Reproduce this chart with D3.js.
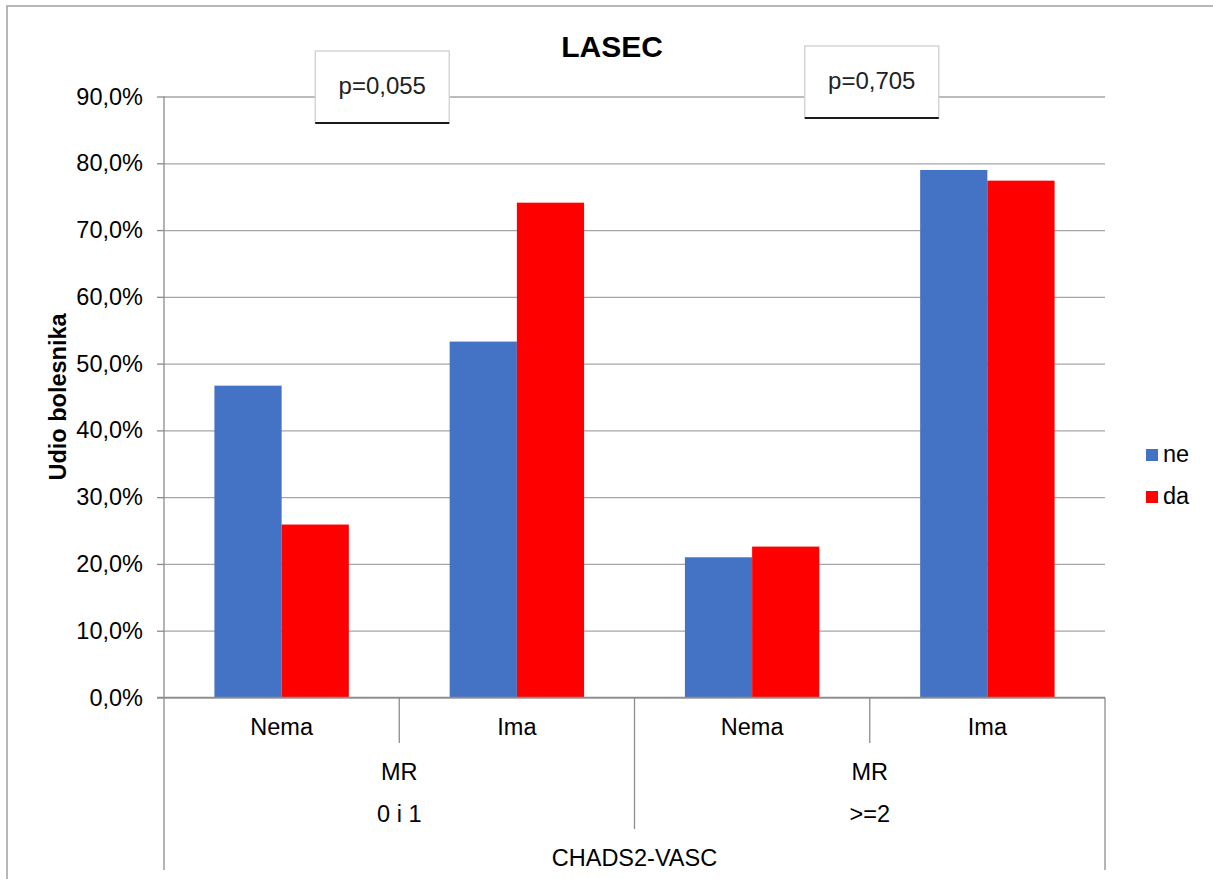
<!DOCTYPE html>
<html>
<head>
<meta charset="utf-8">
<script src="https://cdn.jsdelivr.net/npm/d3@7"></script>
<style>
  html, body { margin: 0; padding: 0; background: #fff; }
  svg { display: block; font-family: Arial, "Liberation Sans", sans-serif; }
</style>
</head>
<body>
<svg id="chart" width="1213" height="879"></svg>
<script>
// ---- data ----
const groups = ["0 i 1", ">=2"];
const subCategories = ["Nema", "Ima"];
const seriesNames = ["ne", "da"];
const neValues = [0.467, 0.533, 0.210, 0.790];
const daValues = [0.259, 0.741, 0.226, 0.774];
const yTicks = [0, 0.1, 0.2, 0.3, 0.4, 0.5, 0.6, 0.7, 0.8, 0.9];
const pLabels = ["p=0,055", "p=0,705"];
const title = "LASEC";
const yTitle = "Udio bolesnika";
const midLabel = "MR";
const axisTitle = "CHADS2-VASC";
const colors = ["#4472C4", "#FF0000"];

// ---- layout ----
const svg = d3.select("#chart");
const plotL = 164, plotR = 1105, plotT = 96.5, plotB = 697.5;
const fs = 23.5;

const keys = [];
groups.forEach(g => subCategories.forEach(s => keys.push(g + "|" + s)));
const rows = keys.map((k, i) => ({ key: k, group: k.split("|")[0], sub: k.split("|")[1], ne: neValues[i], da: daValues[i] }));

const x0 = d3.scaleBand().domain(keys).range([plotL, plotR]).paddingInner(0).paddingOuter(0);
const x1 = d3.scaleBand().domain(seriesNames).range([0, x0.bandwidth()]).paddingInner(0).paddingOuter(0.75);
const xg = d3.scaleBand().domain(groups).range([plotL, plotR]);
const y = d3.scaleLinear().domain([0, 0.9]).range([plotB, plotT]);
const color = d3.scaleOrdinal().domain(seriesNames).range(colors);

// outer border
svg.append("rect").attr("x", 7).attr("y", 6).attr("width", 1230).attr("height", 900)
  .attr("fill", "#fff").attr("stroke", "#a0a0a0").attr("stroke-width", 1.5);

// y gridlines + ticks + labels via axis
const yAxis = d3.axisLeft(y).tickValues(yTicks)
  .tickSize(-(plotR - plotL)).tickPadding(21)
  .tickFormat(d => d3.format(".1f")(d * 100).replace(".", ",") + "%");
const ya = svg.append("g").attr("transform", `translate(${plotL},0)`).call(yAxis);
ya.select(".domain").remove();
ya.selectAll(".tick line").attr("stroke", "#a6a6a6").attr("stroke-width", 1.3);
ya.selectAll(".tick").append("line").attr("x1", -7).attr("x2", 0).attr("stroke", "#8c8c8c").attr("stroke-width", 1.3);
ya.selectAll(".tick text").attr("font-size", fs).attr("fill", "#000").attr("font-family", "Arial, 'Liberation Sans', sans-serif");

// bars
const gBars = svg.append("g");
rows.forEach(r => {
  seriesNames.forEach(s => {
    gBars.append("rect")
      .attr("x", x0(r.key) + x1(s))
      .attr("y", y(r[s]))
      .attr("width", x1.bandwidth())
      .attr("height", y(0) - y(r[s]))
      .attr("fill", color(s));
  });
});

// axes lines
const axisColor = "#8c8c8c";
svg.append("line").attr("x1", plotL).attr("x2", plotL).attr("y1", plotT).attr("y2", 870)
  .attr("stroke", axisColor).attr("stroke-width", 1.3);
svg.append("line").attr("x1", plotL - 7).attr("x2", plotR).attr("y1", plotB).attr("y2", plotB)
  .attr("stroke", axisColor).attr("stroke-width", 1.3);
svg.append("line").attr("x1", plotR).attr("x2", plotR).attr("y1", plotB).attr("y2", 870)
  .attr("stroke", axisColor).attr("stroke-width", 1.3);
// separators between sub categories
groups.forEach(g => {
  const xm = xg(g) + xg.bandwidth() / 2;
  svg.append("line").attr("x1", xm).attr("x2", xm).attr("y1", plotB).attr("y2", 743)
    .attr("stroke", axisColor).attr("stroke-width", 1.3);
});
// separator between groups
groups.slice(1).forEach(g => {
  svg.append("line").attr("x1", xg(g)).attr("x2", xg(g)).attr("y1", plotB).attr("y2", 829)
    .attr("stroke", axisColor).attr("stroke-width", 1.3);
});

// category labels
const txt = (x, yy, t, opts = {}) => svg.append("text").attr("x", x).attr("y", yy)
  .attr("text-anchor", opts.anchor || "middle").attr("font-size", opts.size || fs)
  .attr("font-weight", opts.weight || "normal").attr("fill", "#000").text(t);

rows.forEach(r => txt(x0(r.key) + x0.bandwidth() / 2, 735, r.sub));
groups.forEach(g => {
  const xc = xg(g) + xg.bandwidth() / 2;
  txt(xc, 780, midLabel);
  txt(xc, 822, g);
});
txt((plotL + plotR) / 2, 866, axisTitle);

// title
txt(612, 57, title, { size: 30, weight: "bold" });

// y title
svg.append("text").attr("transform", "translate(66,397) rotate(-90)")
  .attr("text-anchor", "middle").attr("font-size", fs).attr("font-weight", "bold").text(yTitle);

// legend
seriesNames.forEach((s, i) => {
  const ly = 449 + i * 42;
  svg.append("rect").attr("x", 1146).attr("y", ly).attr("width", 12).attr("height", 12).attr("fill", color(s));
  txt(1163, ly + 13, s, { anchor: "start" });
});

// p-value boxes
const pOffsets = [{ dx: -17, top: 51 }, { dx: 2, top: 46 }];
pLabels.forEach((p, i) => {
  const xc = xg(groups[i]) + xg.bandwidth() / 2 + pOffsets[i].dx;
  const w = 134, h = 72, top = pOffsets[i].top;
  const g = svg.append("g");
  g.append("rect").attr("x", xc - w / 2).attr("y", top).attr("width", w).attr("height", h)
    .attr("fill", "#fff").attr("stroke", "#d0d0d0").attr("stroke-width", 1.3);
  g.append("line").attr("x1", xc - w / 2).attr("x2", xc + w / 2).attr("y1", top + h).attr("y2", top + h)
    .attr("stroke", "#1a1a1a").attr("stroke-width", 2);
  g.append("text").attr("x", xc).attr("y", top + 43).attr("text-anchor", "middle")
    .attr("font-size", 24).attr("fill", "#222").text(p);
});
</script>
</body>
</html>
